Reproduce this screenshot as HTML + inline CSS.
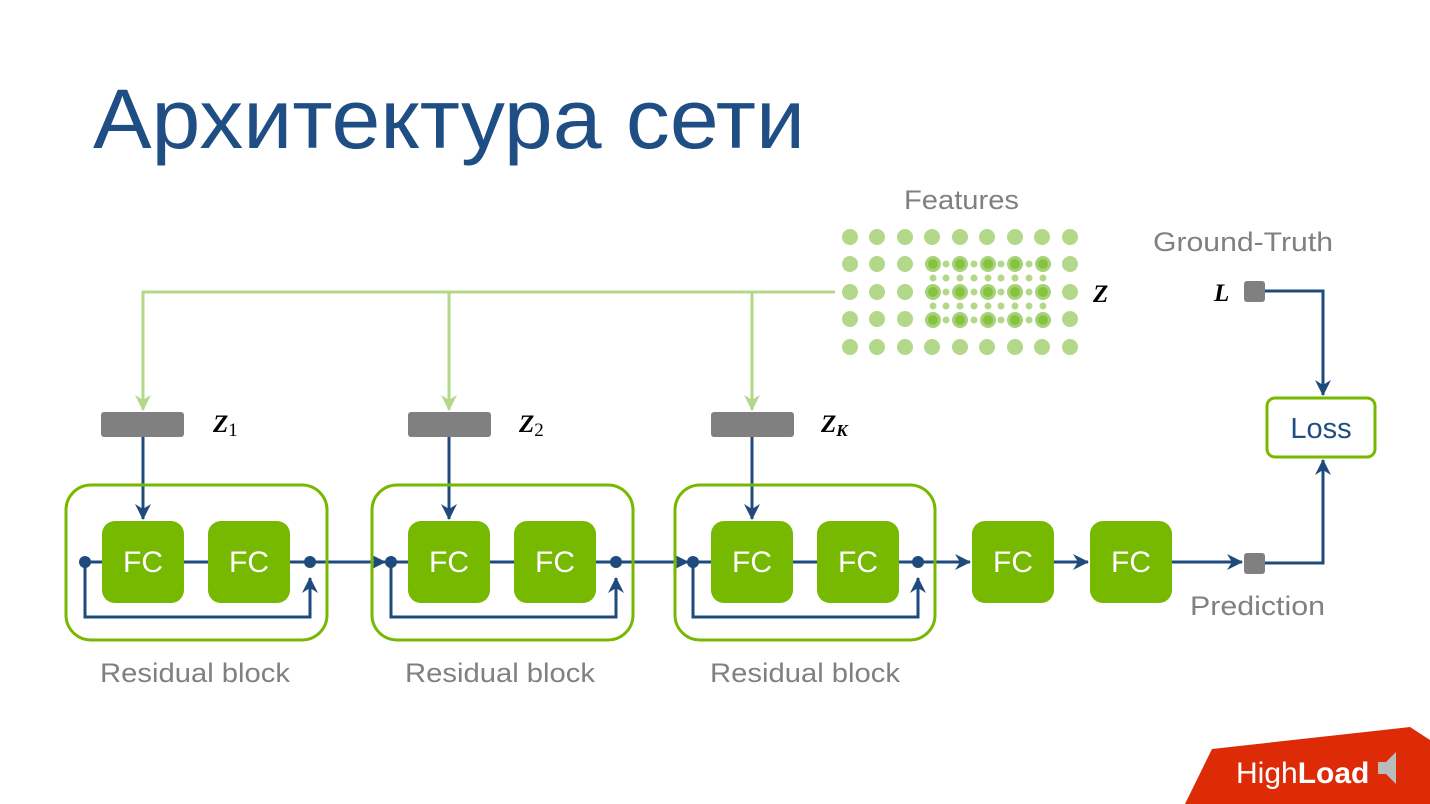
<!DOCTYPE html>
<html><head><meta charset="utf-8"><style>
body{margin:0;background:#fff;}
svg{display:block}
text{font-family:"Liberation Sans","DejaVu Sans",sans-serif}
text.m{font-family:"Liberation Serif","DejaVu Serif",serif;font-weight:bold;font-style:italic}
</style></head><body>
<svg width="1430" height="804" viewBox="0 0 1430 804" xmlns="http://www.w3.org/2000/svg">
<defs>
<marker id="ab" viewBox="0 0 16 16" refX="15" refY="8" markerWidth="16" markerHeight="16" markerUnits="userSpaceOnUse" orient="auto"><path d="M0,0 L16,8 L0,16 L5,8 Z" fill="#1f4a7c"/></marker>
<marker id="ag" viewBox="0 0 16 16" refX="15" refY="8" markerWidth="16" markerHeight="16" markerUnits="userSpaceOnUse" orient="auto"><path d="M0,0 L16,8 L0,16 L5,8 Z" fill="#b3d88a"/></marker>
</defs>
<text x="93" y="148" font-size="84" fill="#1f4e84" textLength="712" lengthAdjust="spacingAndGlyphs">Архитектура сети</text>

<text x="904" y="209" font-size="27" fill="#808080" textLength="115" lengthAdjust="spacingAndGlyphs">Features</text>
<text x="1153" y="251" font-size="27" fill="#808080" textLength="180" lengthAdjust="spacingAndGlyphs">Ground-Truth</text>
<g fill="#b3d88a">
<circle cx="850" cy="237" r="8"/><circle cx="877" cy="237" r="8"/><circle cx="905" cy="237" r="8"/><circle cx="932" cy="237" r="8"/><circle cx="960" cy="237" r="8"/><circle cx="987" cy="237" r="8"/><circle cx="1015" cy="237" r="8"/><circle cx="1042" cy="237" r="8"/><circle cx="1070" cy="237" r="8"/>
<circle cx="850" cy="347" r="8"/><circle cx="877" cy="347" r="8"/><circle cx="905" cy="347" r="8"/><circle cx="932" cy="347" r="8"/><circle cx="960" cy="347" r="8"/><circle cx="987" cy="347" r="8"/><circle cx="1015" cy="347" r="8"/><circle cx="1042" cy="347" r="8"/><circle cx="1070" cy="347" r="8"/>
<circle cx="850" cy="264" r="8"/><circle cx="877" cy="264" r="8"/><circle cx="905" cy="264" r="8"/><circle cx="1070" cy="264" r="8"/>
<circle cx="850" cy="292" r="8"/><circle cx="877" cy="292" r="8"/><circle cx="905" cy="292" r="8"/><circle cx="1070" cy="292" r="8"/>
<circle cx="850" cy="319" r="8"/><circle cx="877" cy="319" r="8"/><circle cx="905" cy="319" r="8"/><circle cx="1070" cy="319" r="8"/>
</g>
<g id="hl">
<g fill="#a8d27a"><circle cx="933" cy="264" r="8"/><circle cx="960" cy="264" r="8"/><circle cx="988" cy="264" r="8"/><circle cx="1015" cy="264" r="8"/><circle cx="1043" cy="264" r="8"/></g>
<g fill="#86c440"><circle cx="933" cy="264" r="5"/><circle cx="960" cy="264" r="5"/><circle cx="988" cy="264" r="5"/><circle cx="1015" cy="264" r="5"/><circle cx="1043" cy="264" r="5"/></g>
<g fill="#b3d88a"><circle cx="946" cy="264" r="3.5"/><circle cx="974" cy="264" r="3.5"/><circle cx="1001" cy="264" r="3.5"/><circle cx="1029" cy="264" r="3.5"/>
<circle cx="933" cy="278" r="3.5"/><circle cx="946" cy="278" r="3.5"/><circle cx="960" cy="278" r="3.5"/><circle cx="974" cy="278" r="3.5"/><circle cx="988" cy="278" r="3.5"/><circle cx="1001" cy="278" r="3.5"/><circle cx="1015" cy="278" r="3.5"/><circle cx="1029" cy="278" r="3.5"/><circle cx="1043" cy="278" r="3.5"/></g>
</g>
<use href="#hl" y="28"/>
<g fill="#a8d27a"><circle cx="933" cy="320" r="8"/><circle cx="960" cy="320" r="8"/><circle cx="988" cy="320" r="8"/><circle cx="1015" cy="320" r="8"/><circle cx="1043" cy="320" r="8"/></g>
<g fill="#86c440"><circle cx="933" cy="320" r="5"/><circle cx="960" cy="320" r="5"/><circle cx="988" cy="320" r="5"/><circle cx="1015" cy="320" r="5"/><circle cx="1043" cy="320" r="5"/></g>
<g fill="#b3d88a"><circle cx="946" cy="320" r="3.5"/><circle cx="974" cy="320" r="3.5"/><circle cx="1001" cy="320" r="3.5"/><circle cx="1029" cy="320" r="3.5"/></g>
<text class="m" x="1093" y="302" font-size="25" fill="#000">Z</text>

<g stroke="#b3d88a" stroke-width="3" fill="none">
<path d="M835 292 H143 V410" marker-end="url(#ag)"/>
<path d="M449 292 V410" marker-end="url(#ag)"/>
<path d="M752 292 V410" marker-end="url(#ag)"/>
</g>
<g fill="#808080">
<rect x="101" y="412" width="83" height="25" rx="3"/>
<rect x="408" y="412" width="83" height="25" rx="3"/>
<rect x="711" y="412" width="83" height="25" rx="3"/>
</g>
<text class="m" x="213" y="432" font-size="25">Z<tspan style="font-weight:normal;font-style:normal" font-size="19" dy="4">1</tspan></text>
<text class="m" x="519" y="432" font-size="25">Z<tspan style="font-weight:normal;font-style:normal" font-size="19" dy="4">2</tspan></text>
<text class="m" x="821" y="432" font-size="25">Z<tspan font-size="17" dy="4">K</tspan></text>

<g stroke="#1f4a7c" stroke-width="3" fill="none">
<path d="M143 437 V519" marker-end="url(#ab)"/>
<path d="M449 437 V519" marker-end="url(#ab)"/>
<path d="M752 437 V519" marker-end="url(#ab)"/>
<path d="M85 562 H310"/><path d="M85 562 V617 H310 V578" marker-end="url(#ab)"/>
<path d="M310 562 H385" marker-end="url(#ab)"/>
<path d="M391 562 H616"/><path d="M391 562 V617 H616 V578" marker-end="url(#ab)"/>
<path d="M616 562 H688" marker-end="url(#ab)"/>
<path d="M693 562 H918"/><path d="M693 562 V617 H918 V578" marker-end="url(#ab)"/>
<path d="M918 562 H970" marker-end="url(#ab)"/>
<path d="M1054 562 H1088" marker-end="url(#ab)"/>
<path d="M1172 562 H1242" marker-end="url(#ab)"/>
<path d="M1264 563 H1323 V460" marker-end="url(#ab)"/>
<path d="M1264 291 H1323 V395" marker-end="url(#ab)"/>
</g>
<g fill="none" stroke="#76b900" stroke-width="3">
<rect x="66" y="485" width="261" height="155" rx="25"/>
<rect x="372" y="485" width="261" height="155" rx="25"/>
<rect x="675" y="485" width="260" height="155" rx="25"/>
<rect x="1267" y="398" width="108" height="59" rx="8"/>
</g>
<g fill="#76b900">
<rect x="102" y="521" width="82" height="82" rx="13"/><rect x="208" y="521" width="82" height="82" rx="13"/>
<rect x="408" y="521" width="82" height="82" rx="13"/><rect x="514" y="521" width="82" height="82" rx="13"/>
<rect x="711" y="521" width="82" height="82" rx="13"/><rect x="817" y="521" width="82" height="82" rx="13"/>
<rect x="972" y="521" width="82" height="82" rx="13"/><rect x="1090" y="521" width="82" height="82" rx="13"/>
</g>
<g fill="#fff" font-size="30" text-anchor="middle">
<text x="143" y="572">FC</text><text x="249" y="572">FC</text>
<text x="449" y="572">FC</text><text x="555" y="572">FC</text>
<text x="752" y="572">FC</text><text x="858" y="572">FC</text>
<text x="1013" y="572">FC</text><text x="1131" y="572">FC</text>
</g>
<g fill="#1f4a7c">
<circle cx="85" cy="562" r="6"/><circle cx="310" cy="562" r="6"/>
<circle cx="391" cy="562" r="6"/><circle cx="616" cy="562" r="6"/>
<circle cx="693" cy="562" r="6"/><circle cx="918" cy="562" r="6"/>
</g>
<g fill="#808080"><rect x="1244" y="553" width="21" height="21" rx="3"/><rect x="1244" y="281" width="21" height="21" rx="3"/></g>
<text class="m" x="1214" y="301" font-size="25">L</text>
<text x="1321" y="438" font-size="29" fill="#1f4e84" text-anchor="middle">Loss</text>
<g font-size="27" fill="#808080">
<text x="1190" y="615" textLength="135" lengthAdjust="spacingAndGlyphs">Prediction</text>
<text x="100" y="682" textLength="190" lengthAdjust="spacingAndGlyphs">Residual block</text>
<text x="405" y="682" textLength="190" lengthAdjust="spacingAndGlyphs">Residual block</text>
<text x="710" y="682" textLength="190" lengthAdjust="spacingAndGlyphs">Residual block</text>
</g>
<polygon points="1212,749 1410,727 1430,740 1430,804 1185,804" fill="#dc2b06"/>
<text x="1236" y="783" font-size="30" fill="#fff">High<tspan font-weight="bold">Load</tspan></text>
<polygon points="1378,762 1386,762 1396,752 1396,784 1386,774 1378,774" fill="#bbb"/>
</svg>
</body></html>
